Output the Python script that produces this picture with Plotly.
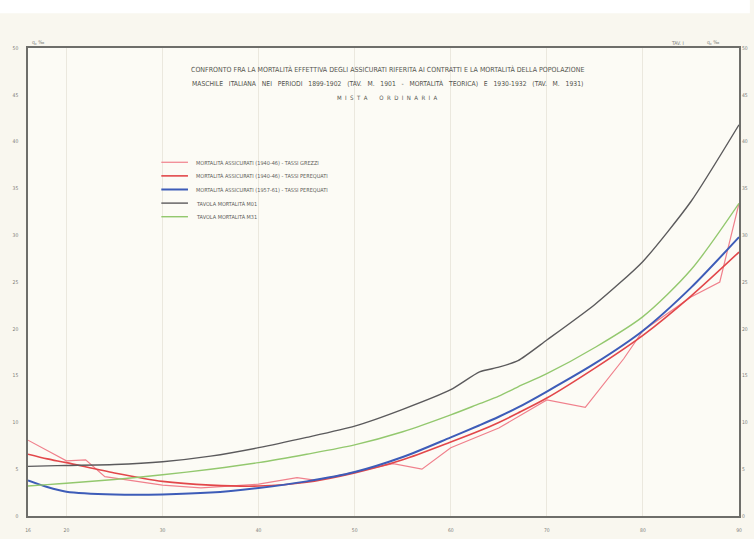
import plotly.graph_objects as go

# Età (anni) e tassi di mortalità q_x per mille
eta_grezzi = [16, 20, 22, 24, 30, 34, 40, 44, 46, 50, 54, 57, 60, 65, 70, 74, 78, 80, 85, 88, 90]
q_grezzi_40_46 = [8.1, 5.9, 6.0, 4.2, 3.3, 3.0, 3.4, 4.1, 3.8, 4.7, 5.6, 5.0, 7.3, 9.4, 12.4, 11.6,
                  16.8, 19.8, 23.4, 25.0, 33.4]

eta = [16, 18, 20, 25, 30, 35, 40, 45, 50, 55, 60, 63, 65, 67, 70, 75, 80, 85, 90]
q_pereq_40_46 = [6.6, 6.1, 5.7, 4.6, 3.7, 3.3, 3.2, 3.6, 4.6, 6.0, 7.9, 9.1, 10.0, 11.0, 12.6,
                 15.8, 19.3, 23.5, 28.2]
q_pereq_57_61 = [3.8, 3.1, 2.6, 2.3, 2.3, 2.5, 3.0, 3.7, 4.7, 6.3, 8.4, 9.7, 10.6, 11.6, 13.3,
                 16.3, 19.8, 24.4, 29.8]
q_tav_m01 = [5.3, 5.35, 5.4, 5.5, 5.8, 6.4, 7.3, 8.4, 9.6, 11.4, 13.5, 15.4, 15.9, 16.6, 18.8,
             22.6, 27.2, 33.6, 41.8]
q_tav_m31 = [3.2, 3.35, 3.5, 3.9, 4.4, 5.0, 5.7, 6.6, 7.6, 9.0, 10.8, 12.0, 12.8, 13.8, 15.2,
             18.0, 21.3, 26.3, 33.4]

nomi = [
    "MORTALITÀ ASSICURATI (1940-46) - TASSI GREZZI",
    "MORTALITÀ ASSICURATI (1940-46) - TASSI PEREQUATI",
    "MORTALITÀ ASSICURATI (1957-61) - TASSI PEREQUATI",
    "TAVOLA MORTALITÀ M01",
    "TAVOLA MORTALITÀ M31",
]

x_ticks = [16, 20, 30, 40, 50, 60, 70, 80, 90]
y_ticks = [0, 5, 10, 15, 20, 25, 30, 35, 40, 45, 50]

W, H = 754, 539
ML, MR, MT, MB = 28, 6, 48, 20
PW, PH = W - ML - MR, H - MT - MB


def px(xp):
    return (xp - ML) / PW


def py(yp):
    return 1 - (yp - MT) / PH


serie = [
    (eta_grezzi, q_grezzi_40_46, dict(color="#f0808c", width=1.2)),
    (eta, q_pereq_40_46, dict(color="#e2474a", width=1.6, shape="spline", smoothing=0.8)),
    (eta, q_pereq_57_61, dict(color="#3d5cb8", width=2, shape="spline", smoothing=0.8)),
    (eta, q_tav_m01, dict(color="#5b5a5c", width=1.4, shape="spline", smoothing=0.6)),
    (eta, q_tav_m31, dict(color="#93c86e", width=1.4, shape="spline", smoothing=0.8)),
]

fig = go.Figure()
for (xs, ys, stile), nome in zip(serie, nomi):
    fig.add_trace(go.Scatter(x=xs, y=ys, name=nome, mode="lines", line=stile))
# asse destro con la stessa scala
fig.add_trace(go.Scatter(x=[16], y=[0], yaxis="y2", mode="markers", showlegend=False,
                         marker=dict(opacity=0), hoverinfo="skip"))

FONT = "Liberation Sans Narrow, DejaVu Sans Condensed, Arial"
axis_font = dict(family=FONT, size=5, color="#7c7c78")

fig.update_layout(
    width=W, height=H,
    margin=dict(l=ML, r=MR, t=MT, b=MB),
    paper_bgcolor="#f9f7ef",
    plot_bgcolor="#fcfbf5",
    font=dict(family=FONT, color="#4a4a48"),
    showlegend=False,
    xaxis=dict(range=[16, 90], tickvals=x_ticks, ticktext=[str(v) for v in x_ticks],
               tickfont=axis_font, showgrid=True, gridcolor="#ebe8de", gridwidth=1,
               zeroline=False, showline=True, linecolor="#6e6e6a", linewidth=1.5, mirror=True,
               ticks="", ticklabelstandoff=8),
    yaxis=dict(range=[0, 50], tickvals=y_ticks, ticktext=[str(v) for v in y_ticks],
               tickfont=axis_font, showgrid=False, zeroline=False, showline=True,
               linecolor="#6e6e6a", linewidth=1.5, mirror=True, ticks="", ticklabelstandoff=7),
    yaxis2=dict(range=[0, 50], tickvals=y_ticks, ticktext=[str(v) for v in y_ticks],
                tickfont=axis_font, overlaying="y", side="right", showgrid=False,
                zeroline=False, showline=False, ticks="", ticklabelstandoff=2),
)

# bordo bianco superiore del foglio
fig.add_shape(type="rect", xref="paper", yref="paper",
              x0=px(-5), x1=px(W + 5), y0=py(13), y1=py(-5),
              fillcolor="#ffffff", line=dict(width=0), layer="below")

# legenda disegnata a mano
for i, ((_, _, stile), nome) in enumerate(zip(serie, nomi)):
    yl = 163 + i * 13.7
    fig.add_shape(type="line", xref="paper", yref="paper",
                  x0=px(163), x1=px(190), y0=py(yl), y1=py(yl),
                  line=dict(color=stile["color"], width=stile["width"]))
    fig.add_annotation(text=nome, xref="paper", yref="paper", x=px(196), y=py(yl),
                       showarrow=False, xanchor="left", yanchor="middle",
                       font=dict(size=5.5, color="#5e5e5a"))

NB = "\u00a0"
titolo = [
    ("CONFRONTO FRA LA MORTALITÀ EFFETTIVA DEGLI ASSICURATI RIFERITA AI CONTRATTI E LA MORTALITÀ DELLA POPOLAZIONE", 7),
    ((NB * 3).join("MASCHILE ITALIANA NEI PERIODI 1899-1902 (TAV. M. 1901 - MORTALITÀ TEORICA) E 1930-1932 (TAV. M. 1931)".split(" ")), 6.75),
    ((NB * 2).join("MISTA ORDINARIA".replace(" ", "~")).replace("~", NB * 3), 6),
]
for (riga, size), yp in zip(titolo, [70, 84, 98]):
    fig.add_annotation(text=riga, xref="paper", yref="paper", x=px(392), y=py(yp),
                       showarrow=False, xanchor="center", yanchor="middle",
                       font=dict(size=size, color="#55554f"))

# etichette dell'asse e della tavola
for txt, xp, yp in [("q<sub>x</sub> ‰", 38, 42), ("TAV. I", 686, 43), ("q<sub>x</sub> ‰", 722, 42)]:
    fig.add_annotation(text=txt, xref="paper", yref="paper", x=px(xp), y=py(yp),
                       showarrow=False, xanchor="center", yanchor="middle",
                       font=dict(size=5, color="#7c7c78"))

fig.write_html("out.html")
